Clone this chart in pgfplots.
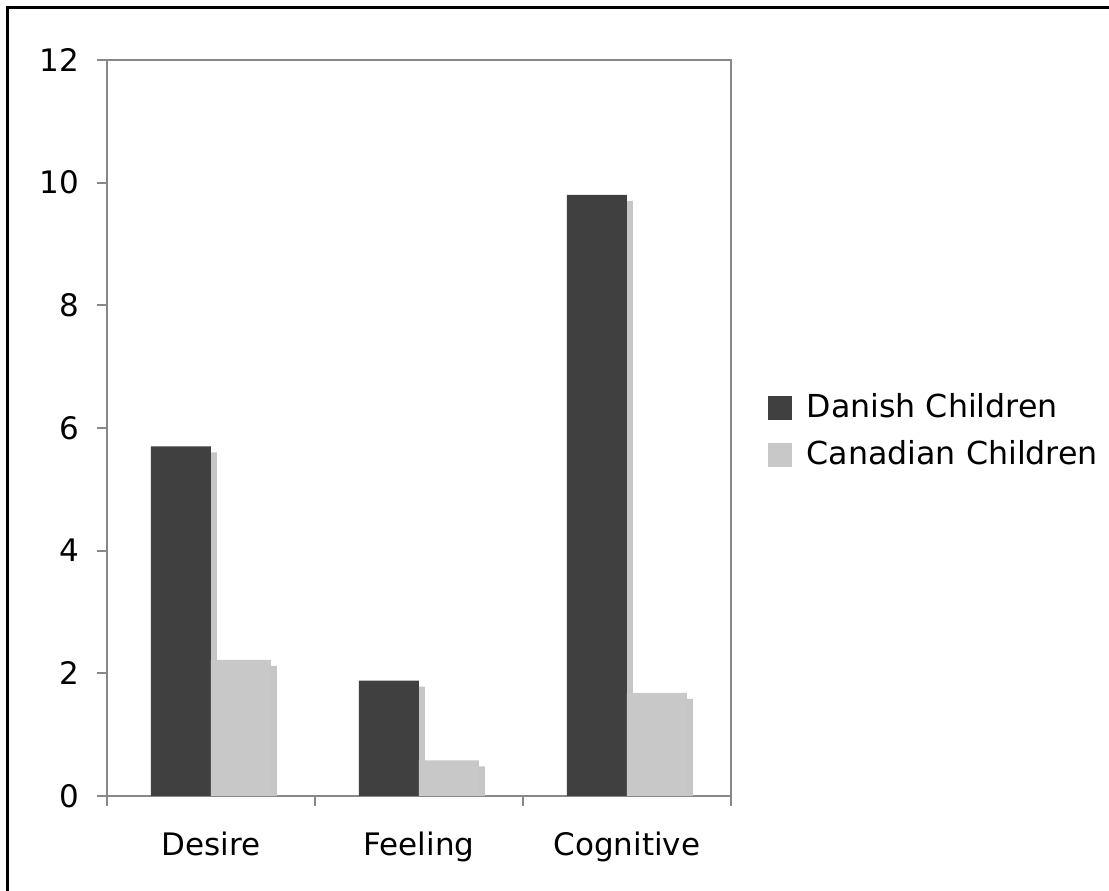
\documentclass[border=0pt]{standalone}
\usepackage{pgfplots}
\pgfplotsset{compat=1.18}
\usepackage{fontspec}
\setmainfont{DejaVu Sans}
\definecolor{darkbar}{HTML}{404040}
\definecolor{lightbar}{HTML}{C8C8C8}
\definecolor{shadowc}{HTML}{C6C6C6}
\definecolor{framec}{HTML}{888888}
% legend square drawn at pgf level, so the bars' shadow preaction is not applied
\newcommand{\legsq}[1]{%
  \pgfsetfillcolor{#1}%
  \pgfpathrectangle{\pgfpoint{0pt}{-3.6pt}}{\pgfpoint{7.2pt}{7.2pt}}%
  \pgfusepath{fill}%
  \pgfpathrectangle{\pgfpoint{0pt}{-3.6pt}}{\pgfpoint{10.2pt}{7.2pt}}%
  \pgfusepath{}}
\begin{document}
\begin{tikzpicture}
\fontsize{9.3}{11}\selectfont
\begin{axis}[
  at={(0,0)}, anchor=south west,
  width=187.2pt, height=220.8pt, scale only axis,
  xmin=0, xmax=3, ymin=0, ymax=12,
  ybar, bar width=18pt,
  ytick={0,2,...,12},
  xtick={0.5,1.5,2.5},
  xticklabels={Desire,Feeling,Cognitive},
  minor xtick={0,1,2,3},
  major x tick style={draw=none},
  tick align=outside,
  major tick length=3pt, minor tick length=3pt,
  xtick pos=bottom, ytick pos=left,
  tick style={framec, line width=0.6pt},
  axis line style={framec, line width=0.6pt},
  /pgf/number format/assume math mode=true,
  ticklabel style={font=\fontsize{9.3}{11}\selectfont},
  xticklabel style={yshift=-4.5pt},
  yticklabel style={xshift=-2pt},
  legend style={at={(1,0.5)}, anchor=west, xshift=10.8pt, yshift=-1pt,
    draw=none, fill=none,
    font=\fontsize{9.5}{11}\selectfont, row sep=2.6pt, inner sep=0pt,
    nodes={inner sep=1.5pt}},
  legend cell align=left,
]
\addplot[fill=darkbar, draw=none, bar shift=-9pt,
  preaction={fill=shadowc, transform canvas={shift={(1.8pt,-1.8pt)}}},
  legend image code/.code={\legsq{darkbar}}]
  coordinates {(0.5,5.7) (1.5,1.88) (2.5,9.8)};
\addlegendentry{Danish Children}
\addplot[fill=lightbar, draw=none, bar shift=9pt,
  preaction={fill=shadowc, transform canvas={shift={(1.8pt,-1.8pt)}}},
  legend image code/.code={\legsq{lightbar}}]
  coordinates {(0.5,2.22) (1.5,0.58) (2.5,1.68)};
\addlegendentry{Canadian Children}
\end{axis}
\draw[black, line width=0.9pt] (-29.7pt,236.4pt) rectangle (320pt,-45pt);
\pgfresetboundingbox
\useasboundingbox (-32.1pt,-28.5pt) rectangle (300.6pt,238.8pt);
\end{tikzpicture}
\end{document}
